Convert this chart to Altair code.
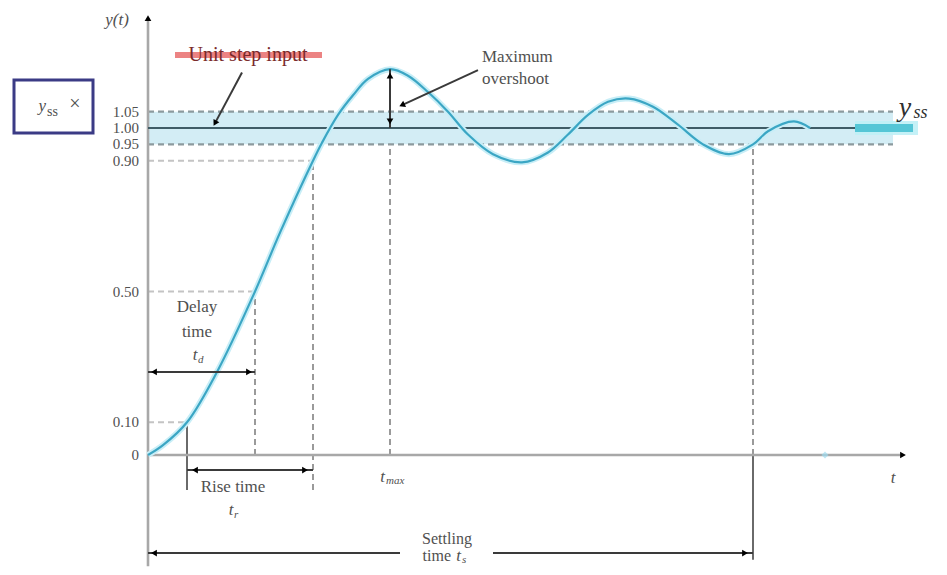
import altair as alt
import pandas as pd

# ---- data ----
t_curve = [0.00, 0.15, 0.39, 0.69, 1.07, 1.32, 1.65, 1.74, 1.90, 2.05, 2.20, 2.42,
           2.60, 2.80, 3.00, 3.20, 3.45, 3.74, 4.00, 4.20, 4.40, 4.60, 4.81, 5.05,
           5.30, 5.55, 5.81, 6.05, 6.20, 6.46, 6.62]
y_curve = [0.00, 0.03, 0.10, 0.254, 0.50, 0.68, 0.90, 0.955, 1.04, 1.10, 1.15, 1.18,
           1.16, 1.11, 1.05, 0.98, 0.92, 0.895, 0.925, 0.98, 1.04, 1.08, 1.09, 1.065,
           1.01, 0.95, 0.92, 0.95, 0.99, 1.02, 1.00]

level_values = [0, 0.10, 0.50, 0.90, 0.95, 1.00, 1.05]
level_labels = ["0", "0.10", "0.50", "0.90", "0.95", "1.00", "1.05"]

t_10, t_d, t_90, t_max, t_s = 0.39, 1.07, 1.65, 2.42, 6.05
y_peak = 1.18
band_end = 7.45
ss_line_end = 7.07
ss_mark_end = 7.65
t_axis_end = 7.55
y_axis_top = 1.336
y_axis_bottom = -0.34
y_delay_arrow = 0.254
y_rise_arrow = -0.046
y_settle_arrow = -0.30
y_below = -0.107

xs = alt.Scale(domain=[-1.4, 7.91], nice=False, zero=False)
ys = alt.Scale(domain=[-0.3425, 1.367], nice=False, zero=False)
FONT = "Liberation Serif"
GRAY_T = "#505050"


def XQ(f="x"):
    return alt.X(f"{f}:Q", scale=xs, axis=None)


def YQ(f="y"):
    return alt.Y(f"{f}:Q", scale=ys, axis=None)


def rules(rows, color, width, dash=None, opacity=1.0):
    df = pd.DataFrame(rows, columns=["x", "x2", "y", "y2"])
    kw = dict(color=color, strokeWidth=width, opacity=opacity)
    if dash:
        kw["strokeDash"] = dash
    return alt.Chart(df).mark_rule(**kw).encode(x=XQ(), x2="x2:Q", y=YQ(), y2="y2:Q")


def texts(rows, size=17, align="center", color=GRAY_T, style="normal", baseline="middle"):
    df = pd.DataFrame(rows, columns=["x", "y", "text"])
    return alt.Chart(df).mark_text(font=FONT, fontSize=size, align=align, color=color,
                                   fontStyle=style, baseline=baseline).encode(
        x=XQ(), y=YQ(), text="text:N")


def heads(rows, size=45):
    df = pd.DataFrame(rows, columns=["x", "y", "angle"])
    return alt.Chart(df).mark_point(shape="triangle-up", filled=True, color="black",
                                    size=size, opacity=1).encode(
        x=XQ(), y=YQ(), angle=alt.Angle("angle:Q", scale=None))


curve_df = pd.DataFrame({"x": t_curve, "y": y_curve})

band = alt.Chart(pd.DataFrame([{"x": 0, "x2": band_end, "y": level_values[4], "y2": level_values[6]}])).mark_rect(
    color="#d3edf5").encode(x=XQ(), x2="x2:Q", y=YQ(), y2="y2:Q")

band_lines = rules([(0, band_end, level_values[6], level_values[6]),
                    (0, band_end, level_values[4], level_values[4])], "#8c9a9e", 2.2, [6, 4])
ss_line = rules([(0, ss_line_end, 1.0, 1.0)], "#3f5c66", 2.2)
ss_glow = rules([(ss_line_end, ss_mark_end + 0.05, 1.0, 1.0)], "#bff0f6", 14, opacity=0.9)
ss_mark = rules([(ss_line_end, ss_mark_end, 1.0, 1.0)], "#55c6d6", 8)

guide_h = rules([(0, t_90, level_values[3], level_values[3]),
                 (0, t_d, level_values[2], level_values[2]),
                 (0, t_10, level_values[1], level_values[1])], "#c4c4c4", 2, [6, 4])
guide_v = rules([(t_d, t_d, 0, level_values[2]),
                 (t_90, t_90, y_below, level_values[3]),
                 (t_max, t_max, 0, level_values[4]),
                 (t_s, t_s, 0, level_values[4])], "#9a9a9a", 2, [6, 4])
solid_v = rules([(t_10, t_10, y_below, level_values[1]),
                 (t_s, t_s, y_axis_bottom + 0.02, 0)], "#6a6a6a", 2)

axes = rules([(0, 0, y_axis_bottom, y_axis_top),
              (0, t_axis_end, 0, 0)], "#a8a8a8", 2.6)

curve_halo = alt.Chart(curve_df).mark_line(interpolate="catmull-rom", color="#c8eef7", strokeWidth=6).encode(
    x=XQ(), y=YQ())
curve = alt.Chart(curve_df).mark_line(interpolate="catmull-rom", color="#3ba6c4", strokeWidth=2.2).encode(
    x=XQ(), y=YQ())

arrows = rules([(0, t_d, y_delay_arrow, y_delay_arrow),
                (t_10, t_90, y_rise_arrow, y_rise_arrow),
                (0, 2.52, y_settle_arrow, y_settle_arrow),
                (3.45, t_s, y_settle_arrow, y_settle_arrow),
                (t_max, t_max, 1.0, y_peak),
                (2.54, 3.30, 1.070, 1.177),
                (0.67, 0.94, 1.015, 1.170)], "#3a3a3a", 2)

head_marks = heads([(0.06, y_delay_arrow, 270), (t_d - 0.06, y_delay_arrow, 90),
                    (t_10 + 0.08, y_rise_arrow, 270), (t_90 - 0.08, y_rise_arrow, 90),
                    (0.06, y_settle_arrow, 270), (t_s - 0.08, y_settle_arrow, 90),
                    (t_max, y_peak - 0.02, 0), (t_max, 1.02, 180),
                    (2.54, 1.070, 245), (0.67, 1.015, 209),
                    (t_axis_end, 0, 90), (0, y_axis_top, 0)])

strike = rules([(0.27, 1.74, 1.223, 1.223)], "#e55a5a", 6, opacity=0.75)

labels = alt.Chart(pd.DataFrame({"y": level_values, "text": level_labels})).mark_text(
    font=FONT, fontSize=15, align="right", color=GRAY_T).encode(
    x=alt.value(131), y=YQ(), text="text:N")

box = alt.Chart(pd.DataFrame([{"x": -1.34, "x2": -0.55, "y": 1.147, "y2": 0.985}])).mark_rect(
    fill="white", stroke="#3b3b85", strokeWidth=3).encode(x=XQ(), x2="x2:Q", y=YQ(), y2="y2:Q")

txt = alt.layer(
    texts([(1.0, 1.223, "Unit step input")], size=20, color="#7a2a2a"),
    texts([(3.34, 1.217, "Maximum"), (3.34, 1.150, "overshoot")], align="left"),
    texts([(0.49, 0.453, "Delay"), (0.49, 0.376, "time"), (0.85, -0.098, "Rise time")]),
    texts([(2.99, -0.257, "Settling")], size=16),
    texts([(3.03, -0.31, "time")], size=16, align="right"),
    # italic main letters (right-aligned, subscript follows)
    texts([(0.495, 0.306, "t"), (0.855, -0.168, "t"), (3.13, -0.31, "t"), (2.37, -0.066, "t"),
           (-1.02, 1.066, "y")], style="italic", align="right"),
    texts([(7.45, -0.07, "t"), (-0.31, 1.33, "y(t)")], style="italic"),
    texts([(0.50, 0.292, "d"), (0.86, -0.182, "r"), (3.14, -0.322, "s"), (2.38, -0.08, "max")],
          size=11, align="left", style="italic"),
    texts([(-1.01, 1.048, "ss")], size=14, align="left"),
    texts([(-0.73, 1.072, "×")], size=20),
    texts([(7.57, 1.062, "y")], size=28, style="italic", color="#2f2f2f"),
    texts([(7.655, 1.045, "ss")], size=18, style="italic", color="#2f2f2f", align="left"),
)

dot = alt.Chart(pd.DataFrame([{"x": 6.77, "y": 0}])).mark_point(
    filled=True, color="#9fdcef", size=50, shape="diamond").encode(x=XQ(), y=YQ())

chart = alt.layer(
    band, band_lines, guide_h, guide_v, solid_v, axes, ss_line, ss_glow, ss_mark,
    curve_halo, curve, arrows, head_marks, strike, dot, labels, box, txt
).properties(width=931, height=559, padding=0, autosize="none").configure_view(stroke=None)

chart.save("out.html", embed_options={"renderer": "svg", "actions": False})
